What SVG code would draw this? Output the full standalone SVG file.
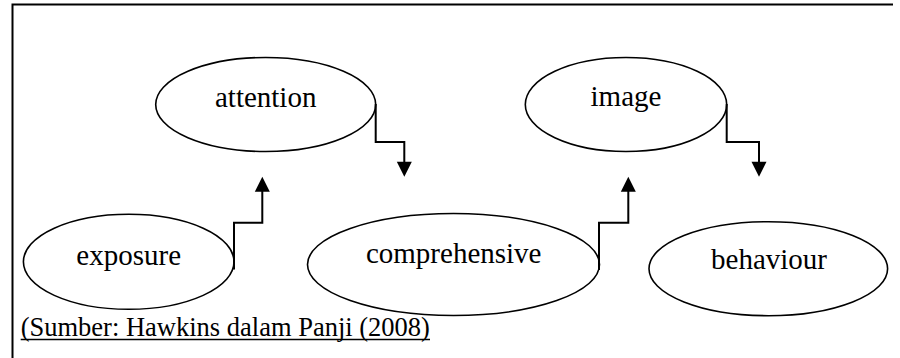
<svg xmlns="http://www.w3.org/2000/svg" width="900" height="358" viewBox="0 0 900 358">
  <style>
    .node ellipse { fill: #fff; stroke: #000; stroke-width: 1.6; }
    .node text { font-family: "Liberation Serif", "Times New Roman", serif; font-size: 29px; fill: #000; text-anchor: middle; }
    .conn { fill: none; stroke: #000; stroke-width: 2; }
    .head { fill: #000; }
    .caption { font-family: "Liberation Serif", "Times New Roman", serif; font-size: 26.5px; fill: #000; }
  </style>
  <rect width="900" height="358" fill="#fff"/>
  <g id="frame">
    <path d="M12.5 358 V4.5 H893" fill="none" stroke="#000" stroke-width="2"/>
  </g>
  <g id="node-attention" class="node">
    <ellipse cx="265.7" cy="104.5" rx="110" ry="47"/>
    <text x="265.7" y="106.5">attention</text>
  </g>
  <g id="node-image" class="node">
    <ellipse cx="626" cy="104.5" rx="100.7" ry="47"/>
    <text x="626" y="106">image</text>
  </g>
  <g id="node-exposure" class="node">
    <ellipse cx="128.7" cy="261.8" rx="105.3" ry="47.5"/>
    <text x="128.7" y="265">exposure</text>
  </g>
  <g id="node-comprehensive" class="node">
    <ellipse cx="453.5" cy="264.5" rx="146" ry="51"/>
    <text x="453.7" y="263">comprehensive</text>
  </g>
  <g id="node-behaviour" class="node">
    <ellipse cx="768.3" cy="268.7" rx="119.3" ry="47"/>
    <text x="769" y="269">behaviour</text>
  </g>
  <g id="connectors">
    <path class="conn" d="M375.7 104 V142 H404.3 V163"/>
    <polygon class="head" points="396.8,161.7 411.8,161.7 404.3,176.7"/>
    <path class="conn" d="M234 269.5 V222.7 H262.3 V190"/>
    <polygon class="head" points="254.8,191.7 269.8,191.7 262.3,176.7"/>
    <path class="conn" d="M599 270 V222.7 H628.3 V190"/>
    <polygon class="head" points="620.8,191.7 635.8,191.7 628.3,176.7"/>
    <path class="conn" d="M726.7 104 V142 H759 V163"/>
    <polygon class="head" points="751.5,161.7 766.5,161.7 759,176.7"/>
  </g>
  <g id="caption">
    <text class="caption" x="20.7" y="336">(Sumber: Hawkins dalam Panji (2008)</text>
    <line x1="20.7" y1="339.5" x2="430" y2="339.5" stroke="#000" stroke-width="1.3"/>
  </g>
</svg>
